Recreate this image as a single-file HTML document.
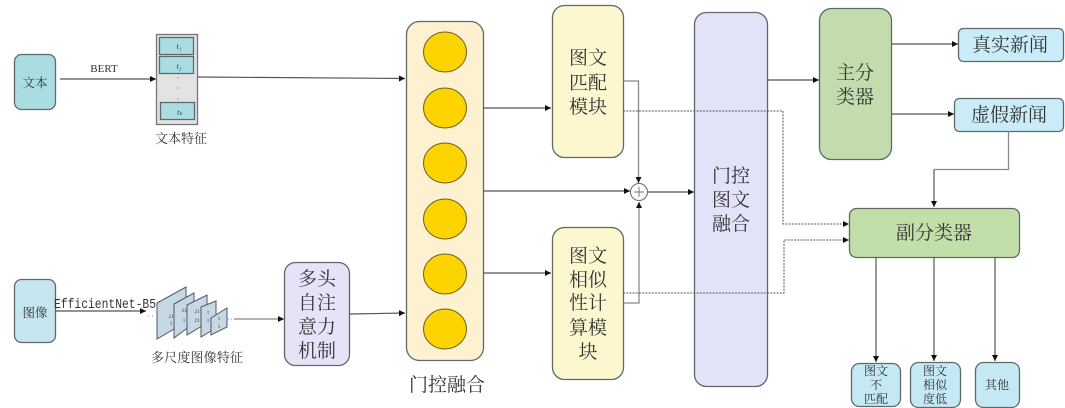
<!DOCTYPE html>
<html><head><meta charset="utf-8"><style>
html,body{margin:0;padding:0;background:#fff;width:1065px;height:408px;overflow:hidden}
svg{display:block}
text{font-family:"Liberation Serif","Noto Serif CJK SC",serif;fill:#333;text-anchor:middle}
.b{stroke:#5f6a68;stroke-width:1.3}
.l{stroke:#555;stroke-width:1.2;fill:none}
.g{stroke:#888;stroke-width:1.3;fill:none}
.d{stroke:#555;stroke-width:1;fill:none;stroke-dasharray:2 1.2}
.p{fill:#c6d8e4;stroke:#556;stroke-width:1}
</style></head><body>
<svg width="1065" height="408" viewBox="0 0 1065 408" xmlns="http://www.w3.org/2000/svg">
<defs><marker id="a" markerWidth="7" markerHeight="7" refX="6" refY="3" orient="auto" markerUnits="userSpaceOnUse"><path d="M0,0 L6,3 L0,6 Z" fill="#111"/></marker></defs>

<!-- text input -->
<rect class="b" x="14.5" y="54.5" width="41" height="55" rx="7" fill="#a9dde2"/>
<text x="35" y="87" font-size="12.5">文本</text>
<text x="104" y="72" font-size="11">BERT</text>
<path class="l" d="M60,79 H156" marker-end="url(#a)"/>
<rect x="156.5" y="34.5" width="41" height="90" fill="#e3e3e3" stroke="#777" stroke-width="1.3"/>
<rect class="b" x="159.5" y="37.5" width="34" height="17" fill="#a9dde2"/>
<rect class="b" x="159.5" y="56.5" width="34" height="17" fill="#a9dde2"/>
<rect class="b" x="160.5" y="102.5" width="34" height="17" fill="#a9dde2"/>
<text x="179" y="49" font-size="8" font-style="italic">t₁</text>
<text x="179" y="69" font-size="8" font-style="italic">t₂</text>
<text x="180" y="115" font-size="8" font-style="italic">tₖ</text>
<text x="178" y="81" font-size="8">·</text><text x="178" y="91" font-size="8">·</text><text x="178" y="102" font-size="8">·</text>
<text x="181" y="143" font-size="13">文本特征</text>
<path class="l" d="M198,77 L405,78.5" marker-end="url(#a)"/>

<!-- image input -->
<rect class="b" x="14.5" y="279.5" width="41" height="63" rx="7" fill="#c5e5ef"/>
<text x="35" y="317" font-size="12.5">图像</text>
<text x="105" y="308" font-size="13.5" style="font-family:'Liberation Mono',monospace" textLength="102" lengthAdjust="spacingAndGlyphs">EfficientNet-B5</text>
<path class="l" d="M55,311 H146" marker-end="url(#a)"/>
<path d="M148,316 H156" stroke="#888" stroke-dasharray="1 3" fill="none"/>
<polygon class="p" points="157,303 186,287 186,322 157,339"/>
<text x="171" y="318" font-size="5">21</text><text x="171" y="325" font-size="5">1</text>
<polygon class="p" points="174,304 194,293 194,323 174,338"/>
<text x="184" y="312" font-size="5">31</text><text x="184" y="322" font-size="5">1</text>
<polygon class="p" points="187,305 207,295 207,323 187,335"/>
<text x="197" y="313" font-size="5">21</text><text x="197" y="322" font-size="5">21</text>
<polygon class="p" points="201,307 216,301 216,328 201,337"/>
<text x="208" y="314" font-size="5">1</text><text x="208" y="322" font-size="5">1</text>
<polygon class="p" points="211,318 227,308 227,327 211,335"/>
<text x="219" y="320" font-size="5">1</text><text x="219" y="328" font-size="5">1</text>
<path d="M228,319 H234" stroke="#888" stroke-dasharray="1 2" fill="none"/>
<path d="M234,319 H284" class="g" marker-end="url(#a)"/>
<text x="197" y="362" font-size="13" textLength="92">多尺度图像特征</text>

<!-- attention -->
<rect class="b" x="284.5" y="262.5" width="65" height="103" rx="11" fill="#e4e3f7"/>
<g font-size="19"><text x="317" y="285">多头</text><text x="317" y="309">自注</text><text x="317" y="333">意力</text><text x="317" y="357">机制</text></g>
<path class="l" d="M350,314 L405,313" marker-end="url(#a)"/>

<!-- gated fusion -->
<rect class="b" x="406.5" y="21.5" width="77" height="339" rx="13" fill="#fdf1cf"/>
<g fill="#fdd400" stroke="#6b5f2a" stroke-width="1">
<ellipse cx="445" cy="52" rx="21.5" ry="20"/><ellipse cx="445" cy="108" rx="21.5" ry="20"/><ellipse cx="445" cy="163" rx="21.5" ry="20"/><ellipse cx="445" cy="219" rx="21.5" ry="20"/><ellipse cx="445" cy="274" rx="21.5" ry="20"/><ellipse cx="445" cy="329" rx="21.5" ry="20"/></g>
<text x="447" y="391" font-size="19">门控融合</text>

<path class="l" d="M483,108 H551" marker-end="url(#a)"/>
<path class="l" d="M483,191 H630" marker-end="url(#a)"/>
<path class="l" d="M483,273 H551" marker-end="url(#a)"/>

<!-- modules -->
<rect class="b" x="552.5" y="5.5" width="71" height="152" rx="12" fill="#fdf7cf"/>
<g font-size="19"><text x="588" y="64">图文</text><text x="588" y="89">匹配</text><text x="588" y="113">模块</text></g>
<rect class="b" x="552.5" y="227.5" width="71" height="152" rx="12" fill="#fdf7cf"/>
<g font-size="19"><text x="588" y="262">图文</text><text x="588" y="286">相似</text><text x="588" y="309">性计</text><text x="588" y="334">算模</text><text x="588" y="358">块</text></g>

<path class="g" d="M623,81 H638.5 V183" marker-end="url(#a)"/>
<path class="g" d="M623,303 H639 V202" marker-end="url(#a)"/>
<circle cx="639" cy="192" r="8.5" fill="#fff" stroke="#666" stroke-width="1"/>
<path d="M634,192 H644 M639,187 V197" stroke="#777" fill="none"/>
<path class="l" d="M648,192 H694" marker-end="url(#a)"/>

<!-- gate box -->
<rect class="b" x="694.5" y="12.5" width="73" height="374" rx="12" fill="#e2e3f8"/>
<g font-size="19"><text x="731" y="182">门控</text><text x="731" y="206">图文</text><text x="731" y="230">融合</text></g>

<path class="d" d="M623,111 H783 V224 H849" marker-end="url(#a)"/>
<path class="d" d="M623,293 H784 V240 H849" marker-end="url(#a)"/>

<path class="l" d="M767,80 H819" marker-end="url(#a)"/>
<rect class="b" x="819.5" y="8.5" width="72" height="151" rx="12" fill="#c3dcae"/>
<g font-size="19"><text x="855" y="79">主分</text><text x="855" y="103">类器</text></g>
<path class="l" d="M892,44 H958" marker-end="url(#a)"/>
<path class="l" d="M892,114 H954" marker-end="url(#a)"/>
<rect class="b" x="958.5" y="28.5" width="105" height="33" rx="5" fill="#c9ecf8"/>
<text x="1010" y="51" font-size="19">真实新闻</text>
<rect class="b" x="954.5" y="98.5" width="109" height="33" rx="5" fill="#c9ecf8"/>
<text x="1009" y="121" font-size="19">虚假新闻</text>
<path class="g" d="M1008.5,131 V169.5 H934"/>
<path class="l" d="M934,169.5 V207" marker-end="url(#a)"/>

<rect class="b" x="849.5" y="208.5" width="170" height="49" rx="7" fill="#c3dfa9"/>
<text x="934" y="239" font-size="19">副分类器</text>
<path class="l" d="M876,257 V362" marker-end="url(#a)"/>
<path class="l" d="M934,257 V361" marker-end="url(#a)"/>
<path class="l" d="M995,257 V361" marker-end="url(#a)"/>

<rect class="b" x="851.5" y="363.5" width="49" height="43" rx="8" fill="#c5e8f5"/>
<g font-size="12"><text x="876" y="375">图文</text><text x="876" y="389">不</text><text x="876" y="403">匹配</text></g>
<rect class="b" x="910.5" y="362.5" width="50" height="45" rx="8" fill="#c5e8f5"/>
<g font-size="12"><text x="935" y="375">图文</text><text x="935" y="389">相似</text><text x="935" y="403">度低</text></g>
<rect class="b" x="975.5" y="362.5" width="44" height="45" rx="8" fill="#c5e8f5"/>
<text x="997" y="389" font-size="12">其他</text>
</svg>
</body></html>
